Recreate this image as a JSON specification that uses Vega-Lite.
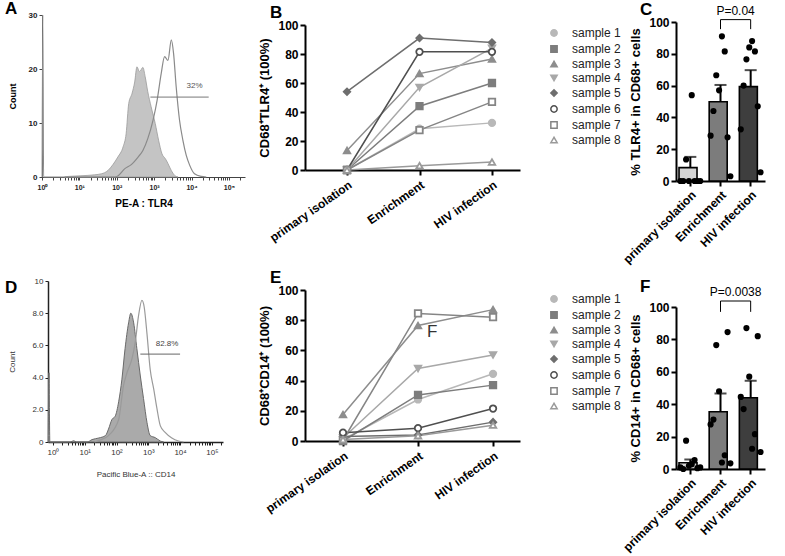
{
"$schema": "https://vega.github.io/schema/vega-lite/v6.json",
"autosize": {"type": "none"},
"padding": {"left": 42, "top": 15, "right": 743, "bottom": 541},
"background": "white",
"columns": 4,
"bounds": "flush",
"align": "each",
"spacing": {"row": 100, "column": 60},
"resolve": {"scale": {"color": "independent", "fill": "independent", "stroke": "independent", "shape": "independent"}, "legend": {"color": "independent", "fill": "independent", "stroke": "independent", "shape": "independent"}},
"config": {
  "view": {"stroke": null},
  "font": "Liberation Sans",
  "axis": {"grid": false, "labelOverlap": false, "domainColor": "black", "tickColor": "black", "labelColor": "black", "titleColor": "black", "labelFont": "Liberation Sans", "titleFont": "Liberation Sans"},
  "legend": {"title": null, "orient": "none", "legendX": 243, "legendY": 12, "labelFontSize": 12, "labelColor": "#222222", "labelFont": "Liberation Sans", "symbolSize": 40, "symbolStrokeWidth": 1.5, "rowPadding": 2, "labelOffset": 12},
  "title": {"fontSize": 17, "fontWeight": "bold", "anchor": "start", "frame": "group", "color": "black", "offset": 0, "font": "Liberation Sans"}
},
"datasets": {
  "tlr4": [
    {"sample": "sample 1", "stage": "primary isolation", "value": 0}, {"sample": "sample 1", "stage": "Enrichment", "value": 28.5}, {"sample": "sample 1", "stage": "HIV infection", "value": 32.5},
    {"sample": "sample 2", "stage": "primary isolation", "value": 0}, {"sample": "sample 2", "stage": "Enrichment", "value": 44}, {"sample": "sample 2", "stage": "HIV infection", "value": 60},
    {"sample": "sample 3", "stage": "primary isolation", "value": 13.5}, {"sample": "sample 3", "stage": "Enrichment", "value": 66.5}, {"sample": "sample 3", "stage": "HIV infection", "value": 76.5},
    {"sample": "sample 4", "stage": "primary isolation", "value": 0}, {"sample": "sample 4", "stage": "Enrichment", "value": 57}, {"sample": "sample 4", "stage": "HIV infection", "value": 84},
    {"sample": "sample 5", "stage": "primary isolation", "value": 54}, {"sample": "sample 5", "stage": "Enrichment", "value": 91}, {"sample": "sample 5", "stage": "HIV infection", "value": 88},
    {"sample": "sample 6", "stage": "primary isolation", "value": 0}, {"sample": "sample 6", "stage": "Enrichment", "value": 81.5}, {"sample": "sample 6", "stage": "HIV infection", "value": 81.5},
    {"sample": "sample 7", "stage": "primary isolation", "value": 0}, {"sample": "sample 7", "stage": "Enrichment", "value": 27.5}, {"sample": "sample 7", "stage": "HIV infection", "value": 47},
    {"sample": "sample 8", "stage": "primary isolation", "value": 0}, {"sample": "sample 8", "stage": "Enrichment", "value": 3}, {"sample": "sample 8", "stage": "HIV infection", "value": 5.5}
  ],
  "cd14": [
    {"sample": "sample 1", "stage": "primary isolation", "value": 1}, {"sample": "sample 1", "stage": "Enrichment", "value": 27.5}, {"sample": "sample 1", "stage": "HIV infection", "value": 44.5},
    {"sample": "sample 2", "stage": "primary isolation", "value": 0}, {"sample": "sample 2", "stage": "Enrichment", "value": 30.5}, {"sample": "sample 2", "stage": "HIV infection", "value": 37},
    {"sample": "sample 3", "stage": "primary isolation", "value": 17.5}, {"sample": "sample 3", "stage": "Enrichment", "value": 76.5}, {"sample": "sample 3", "stage": "HIV infection", "value": 87},
    {"sample": "sample 4", "stage": "primary isolation", "value": 2}, {"sample": "sample 4", "stage": "Enrichment", "value": 48}, {"sample": "sample 4", "stage": "HIV infection", "value": 57},
    {"sample": "sample 5", "stage": "primary isolation", "value": 3}, {"sample": "sample 5", "stage": "Enrichment", "value": 4}, {"sample": "sample 5", "stage": "HIV infection", "value": 12.5},
    {"sample": "sample 6", "stage": "primary isolation", "value": 5.5}, {"sample": "sample 6", "stage": "Enrichment", "value": 8.5}, {"sample": "sample 6", "stage": "HIV infection", "value": 21.5},
    {"sample": "sample 7", "stage": "primary isolation", "value": 0.5}, {"sample": "sample 7", "stage": "Enrichment", "value": 84.5}, {"sample": "sample 7", "stage": "HIV infection", "value": 82},
    {"sample": "sample 8", "stage": "primary isolation", "value": 1}, {"sample": "sample 8", "stage": "Enrichment", "value": 3.5}, {"sample": "sample 8", "stage": "HIV infection", "value": 10.5}
  ],
  "hA_fill": [{"x":4,"count":0},{"x":5,"count":0.1},{"x":17,"count":0.3},{"x":39,"count":0.6},{"x":58,"count":1.2},{"x":79,"count":2.3},{"x":107,"count":3.7},{"x":148,"count":5.6},{"x":178,"count":8.0},{"x":209,"count":13.6},{"x":257,"count":15.5},{"x":302,"count":17.6},{"x":347,"count":20.4},{"x":407,"count":19.5},{"x":501,"count":20.3},{"x":575,"count":18.6},{"x":676,"count":15.8},{"x":832,"count":13.0},{"x":1072,"count":9.9},{"x":1318,"count":6.8},{"x":1622,"count":4.3},{"x":1995,"count":3.4},{"x":2344,"count":2.5},{"x":2884,"count":1.2},{"x":3548,"count":0.3},{"x":4365,"count":0}],
  "hA_line": [{"x":1.01,"count":0},{"x":1.05,"count":30},{"x":1.1,"count":0},{"x":90,"count":0},{"x":107,"count":0.2},{"x":162,"count":1.5},{"x":245,"count":2.3},{"x":372,"count":3.7},{"x":501,"count":4.9},{"x":676,"count":7.1},{"x":933,"count":10.5},{"x":1202,"count":14.2},{"x":1549,"count":19.2},{"x":1905,"count":22.3},{"x":2344,"count":21.6},{"x":2884,"count":25.4},{"x":3311,"count":22.9},{"x":3890,"count":16.7},{"x":4786,"count":10.5},{"x":5888,"count":6.8},{"x":7244,"count":4.0},{"x":8913,"count":2.2},{"x":12023,"count":0.6},{"x":18197,"count":0.1},{"x":25000,"count":0}],
  "hD_fill": [{"x":0.71,"count":0},{"x":0.75,"count":4.3},{"x":0.8,"count":0},{"x":3.5,"count":0},{"x":4.5,"count":0.08},{"x":5.5,"count":0},{"x":12,"count":0},{"x":17,"count":0.15},{"x":28,"count":0.25},{"x":45,"count":0.4},{"x":56,"count":0.8},{"x":72,"count":1.4},{"x":91,"count":1.6},{"x":117,"count":2.5},{"x":148,"count":3.9},{"x":186,"count":5.8},{"x":240,"count":7.4},{"x":282,"count":8.0},{"x":347,"count":7.4},{"x":437,"count":5.8},{"x":562,"count":4.1},{"x":708,"count":2.7},{"x":912,"count":1.2},{"x":1148,"count":0.4},{"x":1660,"count":0.27},{"x":2399,"count":0.06},{"x":3020,"count":0}],
  "hD_line": [{"x":20,"count":0},{"x":28,"count":0.1},{"x":56,"count":0.4},{"x":117,"count":1.4},{"x":166,"count":3.5},{"x":214,"count":4.3},{"x":309,"count":5.2},{"x":389,"count":6.2},{"x":490,"count":7.8},{"x":631,"count":8.8},{"x":741,"count":8.4},{"x":912,"count":6.7},{"x":1148,"count":4.5},{"x":1479,"count":3.3},{"x":1862,"count":2.1},{"x":2399,"count":1.0},{"x":3388,"count":0.6},{"x":5495,"count":0.25},{"x":8913,"count":0.06},{"x":12882,"count":0}]
},
"concat": [
  {
    "width": 203, "height": 162,
    "title": {"text": "A", "dx": -37, "dy": 11},
    "encoding": {
      "x": {"field": "x", "type": "quantitative", "title": "PE-A : TLR4", "scale": {"type": "log", "domain": [1, 270000], "nice": false},
            "axis": {"values": [1,2,3,4,5,6,7,8,9,10,20,30,40,50,60,70,80,90,100,200,300,400,500,600,700,800,900,1000,2000,3000,4000,5000,6000,7000,8000,9000,10000,20000,30000,40000,50000,60000,70000,80000,90000,100000,200000],
                     "labelExpr": "indexof([1,10,100,1000,10000,100000], datum.value) >= 0 ? '10' + ['⁰','¹','²','³','⁴','⁵'][round(log(datum.value)/LN10)] : ''",
                     "labelFontSize": 7, "labelFontWeight": "bold", "labelColor": "#222222", "titleFontSize": 10, "titleFontWeight": "bold", "tickSize": 3, "tickWidth": 1, "domainWidth": 1, "domainColor": "#444444", "tickColor": "#444444", "titlePadding": 8, "labelPadding": 3, "labelFlush": false, "labelOverlap": false}},
      "y": {"field": "count", "type": "quantitative", "title": "Count", "scale": {"domain": [0, 30], "nice": false},
            "axis": {"values": [0, 10, 20, 30], "format": "d",
                     "labelFontSize": 8, "labelFontWeight": "bold", "labelColor": "#222222", "titleFontSize": 9, "titleFontWeight": "bold", "tickSize": 3, "domainColor": "#444444", "tickColor": "#444444", "titlePadding": 11, "labelPadding": 2, "labelOverlap": false, "labelFlush": false, "labelBound": false}}
    },
    "layer": [
      {"data": {"name": "hA_fill"}, "mark": {"type": "area", "fill": "#c4c4c4", "stroke": "#9a9a9a", "strokeWidth": 0.8, "interpolate": "monotone"}},
      {"data": {"name": "hA_line"}, "mark": {"type": "line", "stroke": "#8a8a8a", "strokeWidth": 1.2, "interpolate": "monotone"}},
      {"data": {"values": [{"x": 794, "x2": 28840, "count": 14.8}]}, "mark": {"type": "rule", "stroke": "#777777", "strokeWidth": 1}, "encoding": {"x2": {"field": "x2"}}},
      {"data": {"values": [{"x": 12023, "count": 16.9, "label": "32%"}]}, "mark": {"type": "text", "fontSize": 8, "color": "#555555"}, "encoding": {"text": {"field": "label"}}}
    ]
  },
  {
    "width": 215, "height": 155,
    "title": {"text": "B", "dx": -35, "dy": 11},
    "data": {"name": "tlr4"},
    "encoding": {
      "x": {"field": "stage", "type": "nominal", "sort": ["primary isolation", "Enrichment", "HIV infection"], "scale": {"type": "point", "padding": 0.483, "align": 0.6},
            "axis": {"title": null, "labelAngle": -35, "labelAlign": "right", "labelBaseline": "top", "labelFontSize": 12, "labelFontWeight": "bold", "tickSize": 5, "tickWidth": 2, "domainWidth": 2, "labelPadding": 4}},
      "y": {"field": "value", "type": "quantitative", "title": "CD68⁺TLR4⁺ (100%)", "scale": {"domain": [0, 100], "range": [155, 10], "nice": false},
            "axis": {"values": [0,20,40,60,80,100], "titleFontSize": 13, "titleFontWeight": "bold", "labelFontSize": 12, "labelFontWeight": "bold", "tickSize": 5, "tickWidth": 2, "domainWidth": 2, "titlePadding": 6, "labelPadding": 2}}
    },
    "layer": [
      {"mark": {"type": "line", "strokeWidth": 1.5},
       "encoding": {"color": {"field": "sample", "type": "nominal", "scale": {"domain": ["sample 1","sample 2","sample 3","sample 4","sample 5","sample 6","sample 7","sample 8"], "range": ["#b8b8b8","#7d7d7d","#8d8d8d","#a8a8a8","#6e6e6e","#4f4f4f","#858585","#9a9a9a"]}}}},
      {"mark": {"type": "point", "filled": true, "size": 42, "strokeWidth": 1.8, "opacity": 1},
       "encoding": {
         "shape": {"field": "sample", "type": "nominal", "scale": {"domain": ["sample 1","sample 2","sample 3","sample 4","sample 5","sample 6","sample 7","sample 8"], "range": ["circle","square","triangle-up","triangle-down","diamond","circle","square","triangle-up"]}},
         "fill": {"field": "sample", "type": "nominal", "scale": {"domain": ["sample 1","sample 2","sample 3","sample 4","sample 5","sample 6","sample 7","sample 8"], "range": ["#b8b8b8","#7d7d7d","#8d8d8d","#a8a8a8","#6e6e6e","#ffffff","#ffffff","#ffffff"]}},
         "stroke": {"field": "sample", "type": "nominal", "scale": {"domain": ["sample 1","sample 2","sample 3","sample 4","sample 5","sample 6","sample 7","sample 8"], "range": ["#b8b8b8","#7d7d7d","#8d8d8d","#a8a8a8","#6e6e6e","#4f4f4f","#858585","#9a9a9a"]}}
       }}
    ]
  },
  {"width": 36, "height": 10, "data": {"values": [{"t": ""}]}, "mark": {"type": "text"}, "encoding": {"text": {"field": "t", "type": "nominal"}}},
  {
    "width": 89, "height": 166,
    "title": {"text": "C", "dx": -36, "dy": 18},
    "encoding": {
      "x": {"field": "stage", "type": "nominal", "sort": ["primary isolation", "Enrichment", "HIV infection"], "scale": {"paddingInner": 0.25, "paddingOuter": 0.1},
            "axis": {"title": null, "labelAngle": -45, "labelAlign": "right", "labelBaseline": "top", "labelFontSize": 12, "labelFontWeight": "bold", "tickSize": 5, "tickWidth": 2, "domainWidth": 2, "labelPadding": 3}},
      "y": {"field": "value", "type": "quantitative", "title": "% TLR4+ in CD68+ cells", "scale": {"domain": [0, 100], "range": [166, 7], "nice": false},
            "axis": {"values": [0,20,40,60,80,100], "labelOverlap": false, "titleFontSize": 13, "titleFontWeight": "bold", "labelFontSize": 12, "labelFontWeight": "bold", "tickSize": 5, "tickWidth": 2, "domainWidth": 2, "titlePadding": 6, "labelPadding": 2}}
    },
    "layer": [
      {"data": {"name": "tlr4"}, "mark": {"type": "errorbar", "extent": "stderr", "ticks": true, "size": 12, "thickness": 2, "color": "black"}},
      {"data": {"name": "tlr4"}, "mark": {"type": "bar", "stroke": "black", "strokeWidth": 1.6},
       "encoding": {"y": {"aggregate": "mean", "field": "value", "type": "quantitative", "title": "% TLR4+ in CD68+ cells", "scale": {"domain": [0, 100], "range": [166, 7], "nice": false},
                          "axis": {"values": [0,20,40,60,80,100], "labelOverlap": false, "titleFontSize": 13, "titleFontWeight": "bold", "labelFontSize": 12, "labelFontWeight": "bold", "tickSize": 5, "tickWidth": 2, "domainWidth": 2, "titlePadding": 6, "labelPadding": 2}},
                    "fill": {"field": "stage", "type": "nominal", "scale": {"domain": ["primary isolation", "Enrichment", "HIV infection"], "range": ["#d4d4d4", "#7c7c7c", "#3e3e3e"]}, "legend": null}}},
      {"data": {"name": "tlr4"}, "mark": {"type": "circle", "size": 38, "color": "black", "opacity": 1},
       "encoding": {"xOffset": {"field": "sample", "type": "nominal"}}},
      {"data": {"values": [{"stage": "Enrichment", "stage2": "HIV infection", "value": 101.5}]}, "mark": {"type": "rule", "strokeWidth": 1, "color": "black"},
       "encoding": {"x2": {"field": "stage2"}}},
      {"data": {"values": [{"stage": "Enrichment", "value": 101.5, "value2": 95.5}, {"stage": "HIV infection", "value": 101.5, "value2": 95.5}]}, "mark": {"type": "rule", "strokeWidth": 1, "color": "black"},
       "encoding": {"y2": {"field": "value2"}}},
      {"data": {"values": [{"stage": "Enrichment", "value": 107, "label": "P=0.04"}]}, "mark": {"type": "text", "fontSize": 12, "color": "black"},
       "encoding": {"x": {"field": "stage", "type": "nominal", "sort": ["primary isolation", "Enrichment", "HIV infection"], "bandPosition": 1.166}, "text": {"field": "label"}}}
    ]
  },
  {
    "width": 181, "height": 161,
    "title": {"text": "D", "dx": -37, "dy": 24},
    "encoding": {
      "x": {"field": "x", "type": "quantitative", "title": "Pacific Blue-A :: CD14", "scale": {"type": "log", "domain": [0.7, 224000], "range": [6, 181], "nice": false},
            "axis": {"values": [1,2,3,4,5,6,7,8,9,10,20,30,40,50,60,70,80,90,100,200,300,400,500,600,700,800,900,1000,2000,3000,4000,5000,6000,7000,8000,9000,10000,20000,30000,40000,50000,60000,70000,80000,90000,100000,200000],
                     "labelExpr": "indexof([1,10,100,1000,10000,100000], datum.value) >= 0 ? '10' + ['⁰','¹','²','³','⁴','⁵'][round(log(datum.value)/LN10)] : ''",
                     "labelFontSize": 8, "labelColor": "#333333", "titleFontSize": 8, "titleFontWeight": "normal", "titleColor": "#333333", "tickSize": 3, "tickWidth": 1, "domainWidth": 1.5, "domainColor": "#222222", "tickColor": "#222222", "titlePadding": 14, "labelPadding": 3, "labelFlush": false, "labelOverlap": false}},
      "y": {"field": "count", "type": "quantitative", "title": "Count", "scale": {"domain": [0, 10], "nice": false},
            "axis": {"offset": -6, "values": [0, 2, 4, 6, 8, 10],
                     "labelExpr": "datum.value == 0 ? '0' : datum.value == 10 ? '10' : format(datum.value, '.1f')",
                     "labelFontSize": 8, "labelColor": "#333333", "titleFontSize": 8, "titleFontWeight": "normal", "titleColor": "#333333", "tickSize": 3, "domainWidth": 1.5, "domainColor": "#222222", "tickColor": "#222222", "titlePadding": 15, "labelPadding": 2, "labelOverlap": false, "labelFlush": false, "labelBound": false}}
    },
    "layer": [
      {"data": {"name": "hD_fill"}, "mark": {"type": "area", "fill": "#aaaaaa", "stroke": "#6a6a6a", "strokeWidth": 1, "interpolate": "monotone"}},
      {"data": {"name": "hD_line"}, "mark": {"type": "line", "stroke": "#9a9a9a", "strokeWidth": 1.2, "interpolate": "monotone"}},
      {"data": {"values": [{"x": 562, "x2": 10000, "count": 5.46}]}, "mark": {"type": "rule", "stroke": "#666666", "strokeWidth": 1}, "encoding": {"x2": {"field": "x2"}}},
      {"data": {"values": [{"x": 3890, "count": 6.1, "label": "82.8%"}]}, "mark": {"type": "text", "fontSize": 8, "color": "#444444"}, "encoding": {"text": {"field": "label"}}}
    ]
  },
  {
    "width": 215, "height": 160,
    "title": {"text": "E", "dx": -35, "dy": 10},
    "data": {"name": "cd14"},
    "encoding": {
      "x": {"field": "stage", "type": "nominal", "sort": ["primary isolation", "Enrichment", "HIV infection"], "scale": {"type": "point", "padding": 0.433, "align": 0.585},
            "axis": {"title": null, "labelAngle": -35, "labelAlign": "right", "labelBaseline": "top", "labelFontSize": 12, "labelFontWeight": "bold", "tickSize": 5, "tickWidth": 2, "domainWidth": 2, "labelPadding": 4}},
      "y": {"field": "value", "type": "quantitative", "title": "CD68⁺CD14⁺ (100%)", "scale": {"domain": [0, 100], "range": [160, 9], "nice": false},
            "axis": {"values": [0,20,40,60,80,100], "titleFontSize": 13, "titleFontWeight": "bold", "labelFontSize": 12, "labelFontWeight": "bold", "tickSize": 5, "tickWidth": 2, "domainWidth": 2, "titlePadding": 6, "labelPadding": 2}}
    },
    "layer": [
      {"mark": {"type": "line", "strokeWidth": 1.5},
       "encoding": {"color": {"field": "sample", "type": "nominal", "scale": {"domain": ["sample 1","sample 2","sample 3","sample 4","sample 5","sample 6","sample 7","sample 8"], "range": ["#b8b8b8","#7d7d7d","#8d8d8d","#a8a8a8","#6e6e6e","#4f4f4f","#858585","#9a9a9a"]}}}},
      {"mark": {"type": "point", "filled": true, "size": 42, "strokeWidth": 1.8, "opacity": 1},
       "encoding": {
         "shape": {"field": "sample", "type": "nominal", "scale": {"domain": ["sample 1","sample 2","sample 3","sample 4","sample 5","sample 6","sample 7","sample 8"], "range": ["circle","square","triangle-up","triangle-down","diamond","circle","square","triangle-up"]}},
         "fill": {"field": "sample", "type": "nominal", "scale": {"domain": ["sample 1","sample 2","sample 3","sample 4","sample 5","sample 6","sample 7","sample 8"], "range": ["#b8b8b8","#7d7d7d","#8d8d8d","#a8a8a8","#6e6e6e","#ffffff","#ffffff","#ffffff"]}},
         "stroke": {"field": "sample", "type": "nominal", "scale": {"domain": ["sample 1","sample 2","sample 3","sample 4","sample 5","sample 6","sample 7","sample 8"], "range": ["#b8b8b8","#7d7d7d","#8d8d8d","#a8a8a8","#6e6e6e","#4f4f4f","#858585","#9a9a9a"]}}
       }},
      {"data": {"values": [{"stage": "Enrichment", "value": 72, "t": "F"}]}, "mark": {"type": "text", "fontSize": 17, "color": "#333333", "align": "left", "dx": 9},
       "encoding": {"text": {"field": "t"}}}
    ]
  },
  {"width": 36, "height": 10, "data": {"values": [{"t": ""}]}, "mark": {"type": "text"}, "encoding": {"text": {"field": "t", "type": "nominal"}}},
  {
    "width": 89, "height": 188,
    "title": {"text": "F", "dx": -36, "dy": 19},
    "encoding": {
      "x": {"field": "stage", "type": "nominal", "sort": ["primary isolation", "Enrichment", "HIV infection"], "scale": {"paddingInner": 0.25, "paddingOuter": 0.1},
            "axis": {"title": null, "labelAngle": -45, "labelAlign": "right", "labelBaseline": "top", "labelFontSize": 12, "labelFontWeight": "bold", "tickSize": 5, "tickWidth": 2, "domainWidth": 2, "labelPadding": 3}},
      "y": {"field": "value", "type": "quantitative", "title": "% CD14+ in CD68+ cells", "scale": {"domain": [0, 100], "range": [188, 26], "nice": false},
            "axis": {"values": [0,20,40,60,80,100], "labelOverlap": false, "titleFontSize": 13, "titleFontWeight": "bold", "labelFontSize": 12, "labelFontWeight": "bold", "tickSize": 5, "tickWidth": 2, "domainWidth": 2, "titlePadding": 6, "labelPadding": 2}}
    },
    "layer": [
      {"data": {"name": "cd14"}, "mark": {"type": "errorbar", "extent": "stderr", "ticks": true, "size": 12, "thickness": 2, "color": "black"}},
      {"data": {"name": "cd14"}, "mark": {"type": "bar", "stroke": "black", "strokeWidth": 1.6},
       "encoding": {"y": {"aggregate": "mean", "field": "value", "type": "quantitative", "title": "% CD14+ in CD68+ cells", "scale": {"domain": [0, 100], "range": [188, 26], "nice": false},
                          "axis": {"values": [0,20,40,60,80,100], "labelOverlap": false, "titleFontSize": 13, "titleFontWeight": "bold", "labelFontSize": 12, "labelFontWeight": "bold", "tickSize": 5, "tickWidth": 2, "domainWidth": 2, "titlePadding": 6, "labelPadding": 2}},
                    "fill": {"field": "stage", "type": "nominal", "scale": {"domain": ["primary isolation", "Enrichment", "HIV infection"], "range": ["#d4d4d4", "#7c7c7c", "#3e3e3e"]}, "legend": null}}},
      {"data": {"name": "cd14"}, "mark": {"type": "circle", "size": 38, "color": "black", "opacity": 1},
       "encoding": {"xOffset": {"field": "sample", "type": "nominal"}}},
      {"data": {"values": [{"stage": "Enrichment", "stage2": "HIV infection", "value": 103.7}]}, "mark": {"type": "rule", "strokeWidth": 1, "color": "black"},
       "encoding": {"x2": {"field": "stage2"}}},
      {"data": {"values": [{"stage": "Enrichment", "value": 103.7, "value2": 97}, {"stage": "HIV infection", "value": 103.7, "value2": 97}]}, "mark": {"type": "rule", "strokeWidth": 1, "color": "black"},
       "encoding": {"y2": {"field": "value2"}}},
      {"data": {"values": [{"stage": "Enrichment", "value": 109, "label": "P=0.0038"}]}, "mark": {"type": "text", "fontSize": 12, "color": "black"},
       "encoding": {"x": {"field": "stage", "type": "nominal", "sort": ["primary isolation", "Enrichment", "HIV infection"], "bandPosition": 1.166}, "text": {"field": "label"}}}
    ]
  }
]
}
